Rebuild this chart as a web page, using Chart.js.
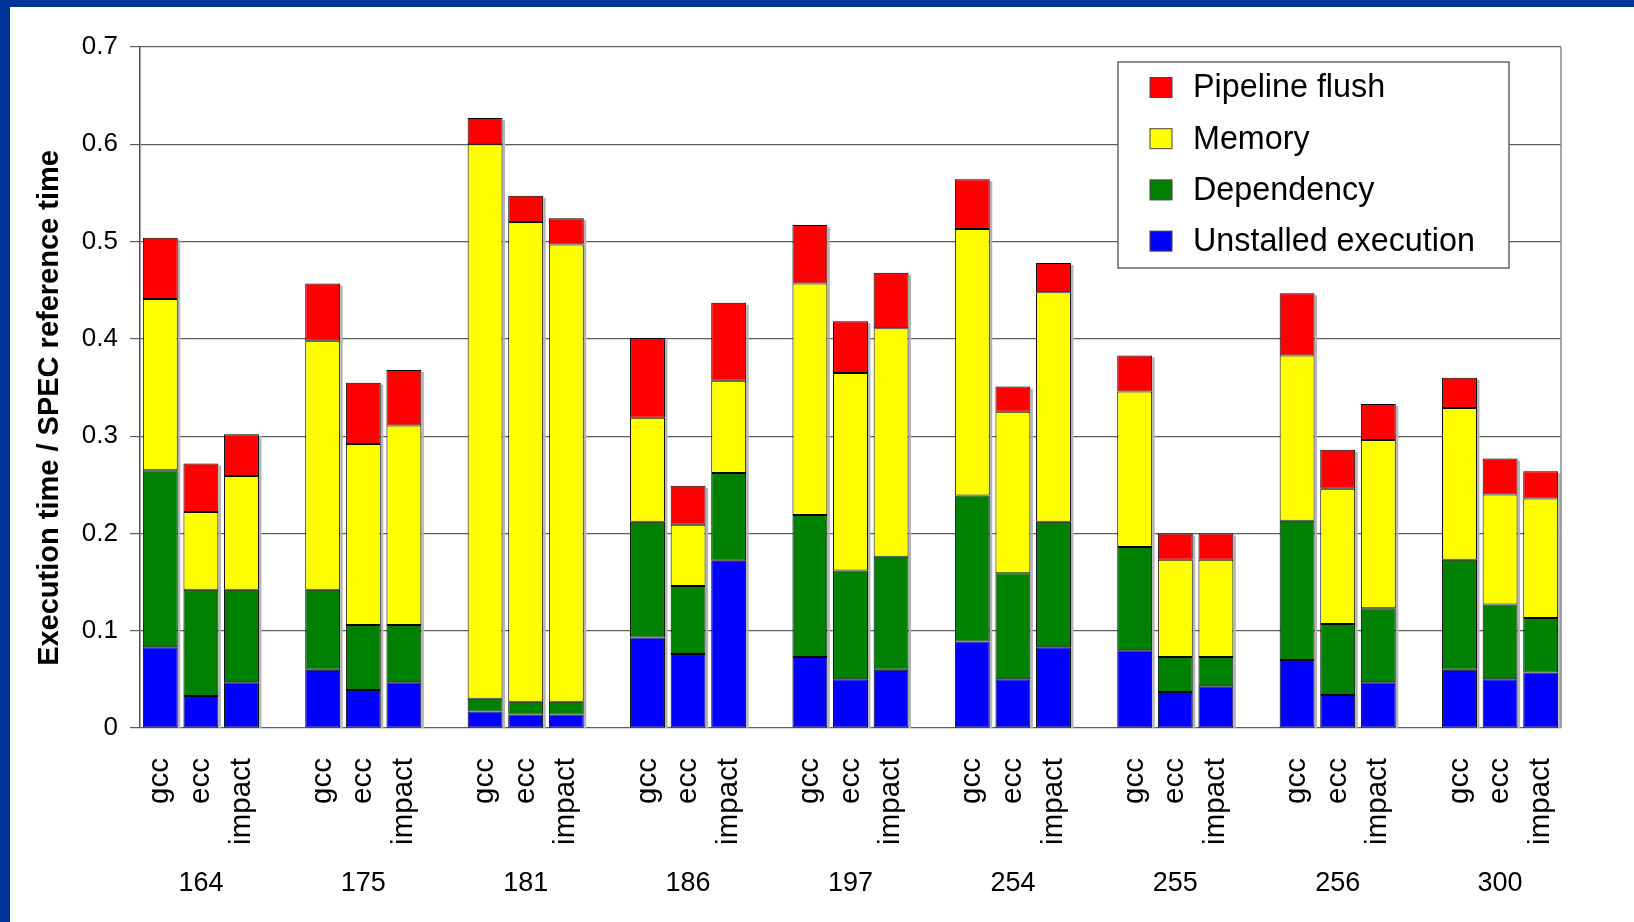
<!DOCTYPE html>
<html><head><meta charset="utf-8">
<script src="https://cdn.jsdelivr.net/npm/chart.js@4.4.0/dist/chart.umd.min.js"></script>
<style>
html,body{margin:0;padding:0;background:#fff;overflow:hidden}
#wrap{position:relative;width:1634px;height:922px}
#bt{position:absolute;left:0;top:0;width:1634px;height:7px;background:#003399}
#bl{position:absolute;left:0;top:0;width:10px;height:922px;background:#003399}
canvas{position:absolute;left:0;top:0}
</style></head><body>
<div id="wrap"><canvas id="c" width="1634" height="922"></canvas><div id="bt"></div><div id="bl"></div></div>
<script>
const benchmarks = ['164','175','181','186','197','254','255','256','300'];
const compilers = ['gcc','ecc','impact'];
const unstalled  = [0.083,0.033,0.047, 0.060,0.039,0.047, 0.017,0.014,0.014, 0.093,0.076,0.172, 0.073,0.050,0.060, 0.089,0.050,0.083, 0.080,0.037,0.043, 0.070,0.034,0.047, 0.060,0.050,0.057];
const dependency = [0.182,0.109,0.095, 0.082,0.067,0.059, 0.013,0.013,0.013, 0.119,0.070,0.090, 0.146,0.112,0.116, 0.150,0.109,0.129, 0.106,0.036,0.030, 0.143,0.073,0.076, 0.113,0.077,0.056];
const memory     = [0.176,0.080,0.117, 0.256,0.186,0.205, 0.570,0.493,0.470, 0.107,0.063,0.095, 0.238,0.203,0.235, 0.274,0.166,0.236, 0.160,0.100,0.100, 0.170,0.139,0.173, 0.156,0.113,0.123];
const flush      = [0.063,0.050,0.043, 0.059,0.063,0.057, 0.027,0.027,0.027, 0.082,0.040,0.080, 0.060,0.053,0.057, 0.051,0.026,0.030, 0.037,0.027,0.027, 0.064,0.040,0.037, 0.031,0.037,0.028];
const seriesNames = ['Unstalled execution','Dependency','Memory','Pipeline flush'];
const seriesColors = ['#0000FF','#008000','#FFFF00','#FF0000'];
const yTitle = 'Execution time / SPEC reference time';

// build category slots with an empty gap slot between groups
const labels = [];
benchmarks.forEach((b, i) => {
  compilers.forEach(c => labels.push(c));
  if (i < benchmarks.length - 1) labels.push('');
});
function pad(arr) {
  const out = [];
  benchmarks.forEach((b, i) => {
    for (let k = 0; k < compilers.length; k++) out.push(arr[i * compilers.length + k]);
    if (i < benchmarks.length - 1) out.push(null);
  });
  return out;
}
const seriesData = [unstalled, dependency, memory, flush];

const FONT = "'Liberation Sans', Arial, sans-serif";

const decor = {
  id: 'decor',
  beforeDatasetsDraw(chart) {
    const ctx = chart.ctx;
    const top = chart.getDatasetMeta(3).data;
    const yb = chart.scales.y.getPixelForValue(0);
    ctx.save();
    ctx.fillStyle = '#b4b4b4';
    top.forEach((el, i) => {
      if (chart.data.datasets[3].data[i] == null) return;
      const r = el.x + el.width / 2;
      ctx.fillRect(r, el.y + 2, 2.5, yb - el.y - 2);
    });
    ctx.restore();
  },
  afterDraw(chart) {
    const ctx = chart.ctx;
    const a = chart.chartArea;
    ctx.save();
    // right frame line
    ctx.strokeStyle = '#8a8a8a';
    ctx.lineWidth = 1.5;
    ctx.beginPath();
    ctx.moveTo(a.right, a.top);
    ctx.lineTo(a.right, a.bottom);
    ctx.stroke();
    // y title
    ctx.fillStyle = '#000';
    ctx.font = 'bold 29px ' + FONT;
    ctx.textAlign = 'center';
    ctx.textBaseline = 'middle';
    ctx.translate(50, 408);
    ctx.rotate(-Math.PI / 2);
    ctx.fillText(yTitle, 0, 0);
    ctx.restore();
    // group labels
    ctx.save();
    ctx.fillStyle = '#000';
    ctx.font = '27px ' + FONT;
    ctx.textAlign = 'center';
    ctx.textBaseline = 'middle';
    const xs = chart.scales.x;
    benchmarks.forEach((b, i) => {
      const x = xs.getPixelForValue(i * 4 + 1);
      ctx.fillText(b, x, 884);
    });
    ctx.restore();
    // legend
    ctx.save();
    const L = 1118, T = 62, W = 391, H = 206;
    ctx.fillStyle = '#fff';
    ctx.fillRect(L, T, W, H);
    ctx.strokeStyle = '#666';
    ctx.lineWidth = 1.5;
    ctx.strokeRect(L, T, W, H);
    ctx.font = '32.3px ' + FONT;
    ctx.textAlign = 'left';
    ctx.textBaseline = 'middle';
    const order = [3, 2, 1, 0];
    order.forEach((di, r) => {
      const ds = chart.data.datasets[di];
      const cy = 87.5 + r * 51.2;
      ctx.fillStyle = ds.backgroundColor;
      ctx.fillRect(1150, cy - 10, 22, 20);
      ctx.strokeStyle = '#444';
      ctx.lineWidth = 1;
      ctx.strokeRect(1150, cy - 10, 22, 20);
      ctx.fillStyle = '#000';
      ctx.fillText(ds.label, 1193, cy + 1);
    });
    ctx.restore();
  }
};

new Chart(document.getElementById('c'), {
  type: 'bar',
  data: {
    labels: labels,
    datasets: seriesData.map((d, i) => ({
      label: seriesNames[i],
      data: pad(d),
      backgroundColor: seriesColors[i],
      borderColor: '#000',
      borderWidth: 1,
      borderSkipped: false,
      categoryPercentage: 1.0,
      barPercentage: 0.86
    }))
  },
  options: {
    responsive: false,
    animation: false,
    devicePixelRatio: 1,
    layout: { padding: { left: 0, top: 47, right: 73, bottom: 0 } },
    plugins: { legend: { display: false }, tooltip: { enabled: false } },
    scales: {
      x: {
        stacked: true,
        grid: { display: false, drawTicks: false },
        border: { display: false },
        ticks: {
          autoSkip: false, minRotation: 90, maxRotation: 90,
          color: '#000', padding: 30,
          font: { family: FONT, size: 29.5 }
        },
        afterFit(s) { s.height = 194; }
      },
      y: {
        stacked: true,
        min: 0, max: 0.7,
        grid: { color: '#5e5e5e', lineWidth: 1.2, tickLength: 10, tickColor: '#5e5e5e' },
        border: { color: '#5a4a4a', width: 1.5 },
        ticks: {
          stepSize: 0.1, color: '#000', padding: 12,
          font: { family: FONT, size: 26 },
          callback: v => (Math.abs(v) < 1e-9 ? '0' : Number(v).toFixed(1))
        },
        afterFit(s) { s.width = 140; }
      }
    }
  },
  plugins: [decor]
});
</script>
</body></html>
